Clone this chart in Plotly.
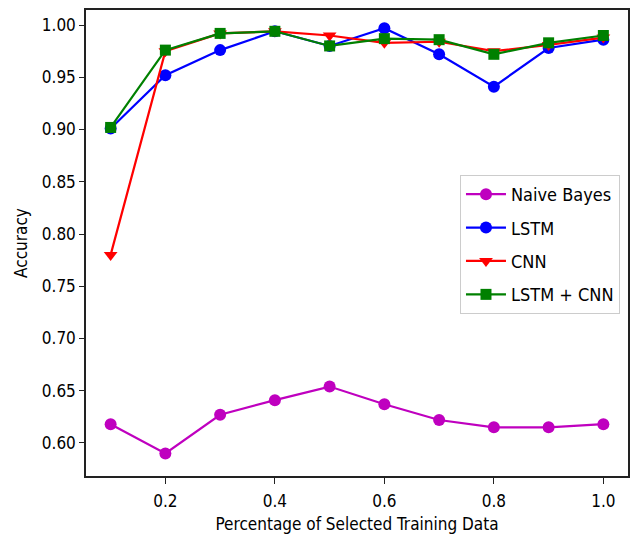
import plotly.graph_objects as go

x_vals = [0.1, 0.2, 0.3, 0.4, 0.5, 0.6, 0.7, 0.8, 0.9, 1.0]
naive_bayes = [0.618, 0.590, 0.627, 0.641, 0.654, 0.637, 0.622, 0.615, 0.615, 0.618]
lstm = [0.901, 0.952, 0.976, 0.994, 0.980, 0.997, 0.972, 0.941, 0.978, 0.986]
cnn = [0.780, 0.975, 0.992, 0.994, 0.990, 0.983, 0.984, 0.975, 0.981, 0.988]
lstm_cnn = [0.902, 0.976, 0.992, 0.994, 0.980, 0.987, 0.986, 0.972, 0.983, 0.990]

x_ticks = [0.2, 0.4, 0.6, 0.8, 1.0]
x_tick_text = ["0.2", "0.4", "0.6", "0.8", "1.0"]
y_ticks = [0.60, 0.65, 0.70, 0.75, 0.80, 0.85, 0.90, 0.95, 1.00]
y_tick_text = ["0.60", "0.65", "0.70", "0.75", "0.80", "0.85", "0.90", "0.95", "1.00"]

series = [
    ("Naive Bayes", naive_bayes, "#bf00bf", "circle"),
    ("LSTM", lstm, "#0000ff", "circle"),
    ("CNN", cnn, "#ff0000", "triangle-down"),
    ("LSTM + CNN", lstm_cnn, "#008000", "square"),
]

fig = go.Figure()
for i, (name, vals, color, sym) in enumerate(series):
    fig.add_trace(go.Scatter(
        x=x_vals, y=vals, name=name, mode="lines+markers",
        legendgroup="g%d" % i,
        line=dict(color=color, width=2.2),
        marker=dict(color=color, symbol=sym, size=12 if sym != "square" else 11),
    ))

font = "DejaVu Sans Condensed, DejaVu Sans, sans-serif"
fig.update_layout(
    width=633, height=542,
    margin=dict(l=86, r=3, t=10, b=66),
    paper_bgcolor="white", plot_bgcolor="white",
    font=dict(family=font, size=17, color="black"),
    legend=dict(
        x=0.69, y=0.646, xanchor="left", yanchor="top",
        bgcolor="white", bordercolor="#cccccc", borderwidth=1,
        font=dict(size=18, family=font),
        itemwidth=40, tracegroupgap=7,
    ),
    xaxis=dict(
        range=[0.055, 1.045], tickvals=x_ticks, ticktext=x_tick_text,
        showgrid=False, zeroline=False, showline=True, linecolor="#222222", linewidth=1.5,
        mirror=True, ticks="outside", ticklen=6, tickcolor="#222222",
        ticklabelstandoff=3,
        title=dict(text="Percentage of Selected Training Data", font=dict(size=17), standoff=8),
        tickfont=dict(size=17),
    ),
    yaxis=dict(
        range=[0.5684, 1.0144], tickvals=y_ticks, ticktext=y_tick_text,
        showgrid=False, zeroline=False, showline=True, linecolor="#222222", linewidth=1.5,
        mirror=True, ticks="outside", ticklen=5, tickcolor="#222222",
        title=dict(text="Accuracy", font=dict(size=17), standoff=10),
        tickfont=dict(size=17),
    ),
)

fig.write_html("out.html")
